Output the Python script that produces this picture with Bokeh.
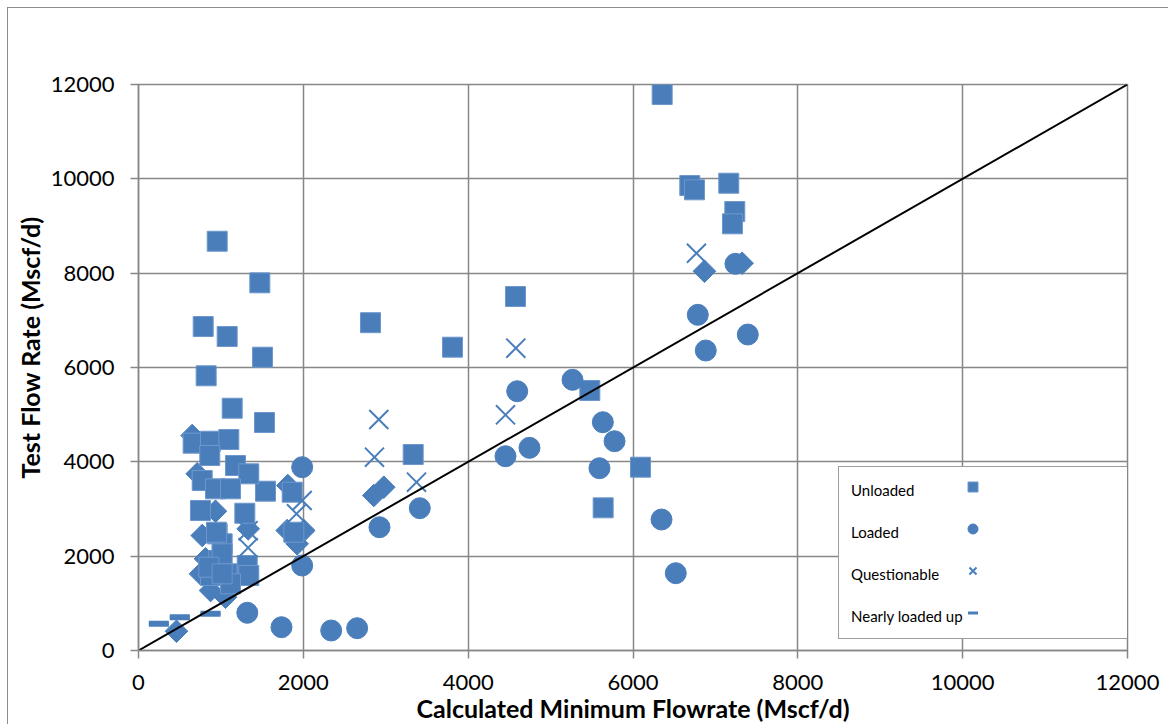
import math
from bokeh.plotting import figure
from bokeh.models import Range1d, Legend, LegendItem, FixedTicker, Title
from bokeh.embed import file_html
from bokeh.resources import INLINE

BLUE = "#4a7ebb"
GRID = "#878787"

# ---- data ----
unloaded_x = [955, 1472, 785, 1076, 1505, 821, 1137, 1529, 2815, 3810, 4574, 3333,
              6354, 6689, 6746, 7162, 7235, 7207, 5476, 6091, 5638, 1541, 1865,
              663, 874, 1096, 865, 1177, 1338, 773, 934, 1116, 752, 1290, 955, 1015,
              975, 874, 1076, 1319, 1338, 1116, 1885, 946, 1015, 853, 1015]
unloaded_y = [8677, 7795, 6869, 6657, 6218, 5824, 5137, 4834, 6950, 6430, 7505, 4155,
              11787, 9858, 9767, 9907, 9307, 9046, 5512, 3886, 3025, 3377, 3356,
              4395, 4437, 4473, 4134, 3922, 3746, 3604, 3428, 3428, 2968, 2910, 2473, 2262,
              1908, 1590, 1626, 1802, 1590, 1414, 2508, 2508, 2050, 1766, 1626]

loaded_x = [1986, 1986, 1320, 1735, 2338, 2653, 2924, 3413, 4453, 4744, 4595, 5266,
            5634, 5776, 5593, 6346, 6519, 6786, 6883, 7393, 7243]
loaded_y = [3886, 1802, 800, 494, 424, 473, 2614, 3017, 4119, 4297, 5497, 5739,
            4840, 4437, 3865, 2777, 1639, 7117, 6360, 6699, 8198]

questionable_x = [2916, 2863, 1986, 1917, 3373, 4578, 4453, 6770, 1330, 1330]
questionable_y = [4897, 4098, 3180, 2898, 3568, 6409, 4997, 8423, 2540, 2180]

nearly_x = [247, 501, 874]
nearly_y = [566, 706, 778]

other_x = [651, 712, 934, 1331, 773, 813, 752, 874, 1056, 1812, 2855, 2976,
           1804, 2006, 1925, 461, 6867, 7324]
other_y = [4558, 3746, 2953, 2579, 2438, 1944, 1626, 1272, 1130, 3498, 3286, 3462,
           2544, 2544, 2262, 409, 8041, 8211]

diag_x = [0, 12000]
diag_y = [0, 12000]

x_ticks = [0, 2000, 4000, 6000, 8000, 10000, 12000]
y_ticks = [0, 2000, 4000, 6000, 8000, 10000, 12000]

legend_labels = ["Unloaded", "Loaded", "Questionable", "Nearly loaded up"]
x_title = "Calculated Minimum Flowrate (Mscf/d)"
y_title = "Test Flow Rate (Mscf/d)"

# ---- figure ----
p = figure(width=1161, height=717, output_backend="svg", toolbar_location=None,
           x_range=Range1d(0, 12000), y_range=Range1d(0, 12000),
           min_border_left=130, min_border_top=76, min_border_right=42,
           min_border_bottom=75)
p.styles = {"margin-left": "8px", "margin-top": "8px",
            "box-shadow": "-1px -1px 0 0 #8c8c8c"}

p.xaxis.ticker = FixedTicker(ticks=x_ticks)
p.yaxis.ticker = FixedTicker(ticks=y_ticks)
p.xaxis.axis_label = x_title
for ax in (p.xaxis, p.yaxis):
    ax.axis_line_color = GRID
    ax.axis_line_width = 1.5
    ax.major_tick_line_color = GRID
    ax.major_tick_line_width = 1.5
    ax.major_tick_in = 0
    ax.major_tick_out = 8
    ax.minor_tick_line_color = None
    ax.major_label_text_font = "Lato"
    ax.major_label_text_font_size = "22px"
    ax.major_label_text_color = "black"
    ax.axis_label_text_font = "Lato"
    ax.axis_label_text_font_size = "25px"
    ax.axis_label_text_font_style = "bold"
    ax.axis_label_text_color = "black"
p.xaxis.major_label_standoff = 16
p.xaxis.axis_label_standoff = 0
p.yaxis.major_label_standoff = 16

# y title placed off-centre like the reference
ytitle = Title(text=y_title, align="left", offset=172, standoff=6,
               text_font="Lato", text_font_size="25px", text_font_style="bold",
               text_color="black")
p.add_layout(ytitle, "left")

p.grid.grid_line_color = GRID
p.grid.grid_line_width = 1.5
p.outline_line_color = GRID
p.outline_line_width = 1.5

# ---- marks ----
p.scatter(other_x, other_y, marker="square", angle=math.pi / 4, size=16,
          fill_color=BLUE, line_color=BLUE)
r_unl = p.scatter(unloaded_x, unloaded_y, marker="square", size=20,
                  fill_color=BLUE, line_color="#6e98cc", line_width=1)
r_ld = p.scatter(loaded_x, loaded_y, marker="circle", size=21,
                 fill_color=BLUE, line_color=BLUE)
r_q = p.scatter(questionable_x, questionable_y, marker="x", size=27,
                line_color=BLUE, line_width=2)
# thin copy underneath (gives the legend its slim dash), thick dashes on top
r_n_leg = p.scatter(nearly_x, nearly_y, marker="dash", size=20,
                    line_color=BLUE, line_width=3)
p.scatter(nearly_x, nearly_y, marker="dash", size=20,
          line_color=BLUE, line_width=6)
p.line(diag_x, diag_y, line_color="black", line_width=2)

# ---- legend: box with the texts, markers drawn to the right of them ----
text_items = [LegendItem(label=lab, renderers=[]) for lab in legend_labels]
legend_text = Legend(items=text_items, location=(700, 11), padding=10, spacing=17,
                     glyph_width=2, glyph_height=25, label_height=25,
                     label_standoff=0, label_width=267, margin=0,
                     label_text_font="Lato", label_text_font_size="15px",
                     label_text_color="black",
                     border_line_color="#3c3c3c", border_line_width=1,
                     background_fill_color="white", background_fill_alpha=1)
p.add_layout(legend_text, "center")

mark_items = [LegendItem(label="", renderers=[r]) for r in [r_unl, r_ld, r_q, r_n_leg]]
legend_marks = Legend(items=mark_items, location=(822, 25), padding=0, spacing=17,
                      glyph_width=25, glyph_height=25, label_height=25,
                      label_standoff=0, label_width=0, margin=0,
                      label_text_font_size="1px",
                      border_line_color=None, background_fill_alpha=0)
p.add_layout(legend_marks, "center")

open("out.html", "w").write(file_html(p, INLINE))
